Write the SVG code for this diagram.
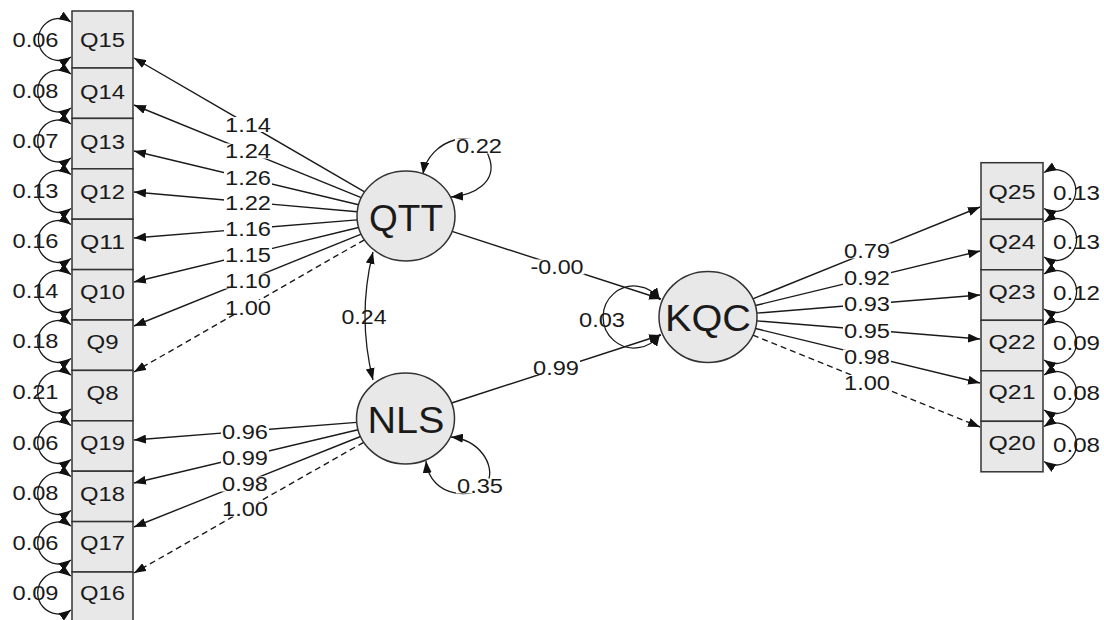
<svg xmlns="http://www.w3.org/2000/svg" width="1104" height="620" viewBox="0 0 1104 620">
<style>
.bg{fill:#ffffff}
.box{fill:#e8e8e8;stroke:#333;stroke-width:1.5}
.lat{fill:#e8e8e8;stroke:#333;stroke-width:1.5}
.e{fill:none;stroke:#1a1a1a;stroke-width:1.4;marker-end:url(#ah)}
.d{stroke-dasharray:6 4}
.v{fill:none;stroke:#1a1a1a;stroke-width:1.3;marker-start:url(#ah);marker-end:url(#ah)}
.lb{fill:#ffffff}
text{font-family:"Liberation Sans",Arial,sans-serif;fill:#1a1a1a;dominant-baseline:central;text-anchor:middle}
.s{font-size:20px}
.big{font-size:37px}
</style>
<defs>
<marker id="ah" viewBox="0 0 12 9" refX="12" refY="4.5" markerWidth="12" markerHeight="9" markerUnits="userSpaceOnUse" orient="auto-start-reverse"><path d="M0,0 L12,4.5 L0,9 z" fill="#111"/></marker>
</defs>
<rect class="bg" x="0" y="0" width="1104" height="620"/>
<g id="connectors">
<!-- QTT loadings -->
<path class="e" d="M364.6,191.9 L134,58"/>
<path class="e" d="M361.2,197.7 L134,105"/>
<path class="e" d="M358.6,204.7 L134,151"/>
<path class="e" d="M357.2,211.7 L134,192"/>
<path class="e" d="M357.2,219.9 L134,238"/>
<path class="e" d="M358.6,227.5 L134,282"/>
<path class="e" d="M361.2,234.1 L134,326"/>
<path class="e d" d="M364.4,239.8 L134,372"/>
<!-- NLS loadings -->
<path class="e" d="M356.7,422.4 L134,440"/>
<path class="e" d="M358,429.8 L134,483"/>
<path class="e" d="M360.5,436.5 L134,527"/>
<path class="e d" d="M363.7,442.3 L134,573"/>
<!-- KQC loadings -->
<path class="e" d="M752.9,298.8 L980,207"/>
<path class="e" d="M755.4,305.5 L980,251"/>
<path class="e" d="M756.8,313.1 L980,295"/>
<path class="e" d="M756.8,320.9 L980,339"/>
<path class="e" d="M755.4,328.5 L980,383"/>
<path class="e d" d="M752.9,335.2 L980,427"/>
<!-- structural -->
<path class="e" d="M452,231.4 L661,299"/>
<path class="e" d="M451.6,403 L661,335"/>
<!-- covariance & latent variances -->
<path class="v" d="M373,252 Q357,316 373,380"/>
<path class="v" d="M423,174 C428,140 480,122 490,160 C496,182 475,195 451,197"/>
<path class="v" d="M451,437 C480,440 495,465 488,482 C478,500 430,500 426,461"/>
<path class="v" d="M660,300 A31,31 0 1 0 660,334"/>
<!-- error variances left -->
<path class="v" d="M71,22 A21,21 0 1 0 71,57"/>
<path class="v" d="M71,74 A21,21 0 1 0 71,108"/>
<path class="v" d="M71,124 A21,21 0 1 0 71,158"/>
<path class="v" d="M71,174.5 A21,21 0 1 0 71,208.5"/>
<path class="v" d="M71,224.5 A21,21 0 1 0 71,258.5"/>
<path class="v" d="M71,274.5 A21,21 0 1 0 71,308.5"/>
<path class="v" d="M71,324.5 A21,21 0 1 0 71,358.5"/>
<path class="v" d="M71,375 A21,21 0 1 0 71,409"/>
<path class="v" d="M71,425.5 A21,21 0 1 0 71,459.5"/>
<path class="v" d="M71,476.5 A21,21 0 1 0 71,510.5"/>
<path class="v" d="M71,526 A21,21 0 1 0 71,560"/>
<path class="v" d="M71,576 A21,21 0 1 0 71,610"/>
<!-- error variances right -->
<path class="v" d="M1044,172.5 A21,21 0 1 1 1044,208.5"/>
<path class="v" d="M1044,222 A21,21 0 1 1 1044,257"/>
<path class="v" d="M1044,274 A21,21 0 1 1 1044,309"/>
<path class="v" d="M1044,325 A21,21 0 1 1 1044,360"/>
<path class="v" d="M1044,375 A21,21 0 1 1 1044,410"/>
<path class="v" d="M1044,426.5 A21,21 0 1 1 1044,461.5"/>
<!-- label backgrounds -->
<rect class="lb" x="224" y="117" width="48" height="15"/>
<rect class="lb" x="224" y="143.5" width="48" height="15"/>
<rect class="lb" x="224" y="170" width="48" height="15"/>
<rect class="lb" x="224" y="195" width="48" height="15"/>
<rect class="lb" x="224" y="221" width="48" height="15"/>
<rect class="lb" x="224" y="247" width="48" height="15"/>
<rect class="lb" x="224" y="273.5" width="48" height="15"/>
<rect class="lb" x="224" y="300" width="48" height="15"/>
<rect class="lb" x="221" y="424.5" width="48" height="15"/>
<rect class="lb" x="221" y="450" width="48" height="15"/>
<rect class="lb" x="221" y="476.5" width="48" height="15"/>
<rect class="lb" x="221" y="501.5" width="48" height="15"/>
<rect class="lb" x="843" y="243.5" width="48" height="15"/>
<rect class="lb" x="843" y="270" width="48" height="15"/>
<rect class="lb" x="843" y="296" width="48" height="15"/>
<rect class="lb" x="843" y="323.5" width="48" height="15"/>
<rect class="lb" x="843" y="349.5" width="48" height="15"/>
<rect class="lb" x="843" y="375" width="48" height="15"/>
<rect class="lb" x="529.5" y="259.5" width="55" height="15"/>
<rect class="lb" x="532" y="360" width="48" height="15"/>
<rect class="lb" x="455" y="138.5" width="48" height="15"/>
<rect class="lb" x="456" y="478.5" width="48" height="15"/>
<!-- path labels -->
<text class="s" x="248" y="124.5" textLength="46" lengthAdjust="spacingAndGlyphs">1.14</text>
<text class="s" x="248" y="151" textLength="46" lengthAdjust="spacingAndGlyphs">1.24</text>
<text class="s" x="248" y="177.5" textLength="46" lengthAdjust="spacingAndGlyphs">1.26</text>
<text class="s" x="248" y="202.5" textLength="46" lengthAdjust="spacingAndGlyphs">1.22</text>
<text class="s" x="248" y="228.5" textLength="46" lengthAdjust="spacingAndGlyphs">1.16</text>
<text class="s" x="248" y="254.5" textLength="46" lengthAdjust="spacingAndGlyphs">1.15</text>
<text class="s" x="248" y="281" textLength="46" lengthAdjust="spacingAndGlyphs">1.10</text>
<text class="s" x="248" y="307.5" textLength="46" lengthAdjust="spacingAndGlyphs">1.00</text>
<text class="s" x="245" y="432" textLength="46" lengthAdjust="spacingAndGlyphs">0.96</text>
<text class="s" x="245" y="457.5" textLength="46" lengthAdjust="spacingAndGlyphs">0.99</text>
<text class="s" x="245" y="484" textLength="46" lengthAdjust="spacingAndGlyphs">0.98</text>
<text class="s" x="245" y="509" textLength="46" lengthAdjust="spacingAndGlyphs">1.00</text>
<text class="s" x="867" y="251" textLength="46" lengthAdjust="spacingAndGlyphs">0.79</text>
<text class="s" x="867" y="277.5" textLength="46" lengthAdjust="spacingAndGlyphs">0.92</text>
<text class="s" x="867" y="303.5" textLength="46" lengthAdjust="spacingAndGlyphs">0.93</text>
<text class="s" x="867" y="331" textLength="46" lengthAdjust="spacingAndGlyphs">0.95</text>
<text class="s" x="867" y="357" textLength="46" lengthAdjust="spacingAndGlyphs">0.98</text>
<text class="s" x="867" y="382.5" textLength="46" lengthAdjust="spacingAndGlyphs">1.00</text>
<text class="s" x="557" y="267" textLength="53" lengthAdjust="spacingAndGlyphs">-0.00</text>
<text class="s" x="556" y="367.5" textLength="46" lengthAdjust="spacingAndGlyphs">0.99</text>
<text class="s" x="364" y="317" textLength="45" lengthAdjust="spacingAndGlyphs">0.24</text>
<text class="s" x="479" y="146" textLength="46" lengthAdjust="spacingAndGlyphs">0.22</text>
<text class="s" x="480" y="486" textLength="46" lengthAdjust="spacingAndGlyphs">0.35</text>
<text class="s" x="602" y="320" textLength="46" lengthAdjust="spacingAndGlyphs">0.03</text>
<!-- error variance labels -->
<text class="s" x="35.5" y="39.5" textLength="46" lengthAdjust="spacingAndGlyphs">0.06</text>
<text class="s" x="35.5" y="90.5" textLength="46" lengthAdjust="spacingAndGlyphs">0.08</text>
<text class="s" x="35.5" y="140.5" textLength="46" lengthAdjust="spacingAndGlyphs">0.07</text>
<text class="s" x="35.5" y="190.5" textLength="46" lengthAdjust="spacingAndGlyphs">0.13</text>
<text class="s" x="35.5" y="240.5" textLength="46" lengthAdjust="spacingAndGlyphs">0.16</text>
<text class="s" x="35.5" y="290.5" textLength="46" lengthAdjust="spacingAndGlyphs">0.14</text>
<text class="s" x="35.5" y="340.5" textLength="46" lengthAdjust="spacingAndGlyphs">0.18</text>
<text class="s" x="35.5" y="391.5" textLength="46" lengthAdjust="spacingAndGlyphs">0.21</text>
<text class="s" x="35.5" y="442.5" textLength="46" lengthAdjust="spacingAndGlyphs">0.06</text>
<text class="s" x="35.5" y="493" textLength="46" lengthAdjust="spacingAndGlyphs">0.08</text>
<text class="s" x="35.5" y="543" textLength="46" lengthAdjust="spacingAndGlyphs">0.06</text>
<text class="s" x="35.5" y="592.5" textLength="46" lengthAdjust="spacingAndGlyphs">0.09</text>
<text class="s" x="1076.5" y="192.5" textLength="47" lengthAdjust="spacingAndGlyphs">0.13</text>
<text class="s" x="1076.5" y="241.7" textLength="47" lengthAdjust="spacingAndGlyphs">0.13</text>
<text class="s" x="1076.5" y="293.3" textLength="47" lengthAdjust="spacingAndGlyphs">0.12</text>
<text class="s" x="1076.5" y="343.3" textLength="47" lengthAdjust="spacingAndGlyphs">0.09</text>
<text class="s" x="1076.5" y="393.3" textLength="47" lengthAdjust="spacingAndGlyphs">0.08</text>
<text class="s" x="1076.5" y="445" textLength="47" lengthAdjust="spacingAndGlyphs">0.08</text>
</g>
<g id="QTT"><ellipse class="lat" cx="406" cy="216" rx="49" ry="45"/><text class="big" x="406" y="218" textLength="74" lengthAdjust="spacingAndGlyphs">QTT</text></g>
<g id="NLS"><ellipse class="lat" cx="405.5" cy="418.5" rx="49" ry="45.5"/><text class="big" x="406" y="420" textLength="77" lengthAdjust="spacingAndGlyphs">NLS</text></g>
<g id="KQC"><ellipse class="lat" cx="708" cy="317" rx="49" ry="45.5"/><text class="big" x="708" y="318" textLength="86" lengthAdjust="spacingAndGlyphs">KQC</text></g>
<g id="Q15"><rect class="box" x="72" y="11" width="61" height="57"/><text class="s" x="102.5" y="40" textLength="45" lengthAdjust="spacingAndGlyphs">Q15</text></g>
<g id="Q14"><rect class="box" x="72" y="68" width="61" height="50.4"/><text class="s" x="102.5" y="91.7" textLength="45" lengthAdjust="spacingAndGlyphs">Q14</text></g>
<g id="Q13"><rect class="box" x="72" y="118.4" width="61" height="50.4"/><text class="s" x="102.5" y="141.7" textLength="45" lengthAdjust="spacingAndGlyphs">Q13</text></g>
<g id="Q12"><rect class="box" x="72" y="168.8" width="61" height="50.4"/><text class="s" x="102.5" y="191.7" textLength="45" lengthAdjust="spacingAndGlyphs">Q12</text></g>
<g id="Q11"><rect class="box" x="72" y="219.2" width="61" height="50.4"/><text class="s" x="102.5" y="241.7" textLength="45" lengthAdjust="spacingAndGlyphs">Q11</text></g>
<g id="Q10"><rect class="box" x="72" y="269.6" width="61" height="50.4"/><text class="s" x="102.5" y="291.7" textLength="45" lengthAdjust="spacingAndGlyphs">Q10</text></g>
<g id="Q9"><rect class="box" x="72" y="320" width="61" height="50.4"/><text class="s" x="102.5" y="341.7" textLength="32" lengthAdjust="spacingAndGlyphs">Q9</text></g>
<g id="Q8"><rect class="box" x="72" y="370.4" width="61" height="50.4"/><text class="s" x="102.5" y="392.7" textLength="32" lengthAdjust="spacingAndGlyphs">Q8</text></g>
<g id="Q19"><rect class="box" x="72" y="420.8" width="61" height="50.4"/><text class="s" x="102.5" y="442.7" textLength="45" lengthAdjust="spacingAndGlyphs">Q19</text></g>
<g id="Q18"><rect class="box" x="72" y="471.2" width="61" height="50.4"/><text class="s" x="102.5" y="494" textLength="45" lengthAdjust="spacingAndGlyphs">Q18</text></g>
<g id="Q17"><rect class="box" x="72" y="521.6" width="61" height="50.4"/><text class="s" x="102.5" y="543.3" textLength="45" lengthAdjust="spacingAndGlyphs">Q17</text></g>
<g id="Q16"><rect class="box" x="72" y="572" width="61" height="50.4"/><text class="s" x="102.5" y="593.3" textLength="45" lengthAdjust="spacingAndGlyphs">Q16</text></g>
<g id="Q25"><rect class="box" x="981" y="162.7" width="62" height="56.6"/><text class="s" x="1012" y="191.7" textLength="47" lengthAdjust="spacingAndGlyphs">Q25</text></g>
<g id="Q24"><rect class="box" x="981" y="219.3" width="62" height="50.5"/><text class="s" x="1012" y="241.7" textLength="47" lengthAdjust="spacingAndGlyphs">Q24</text></g>
<g id="Q23"><rect class="box" x="981" y="269.8" width="62" height="50.5"/><text class="s" x="1012" y="291.7" textLength="47" lengthAdjust="spacingAndGlyphs">Q23</text></g>
<g id="Q22"><rect class="box" x="981" y="320.3" width="62" height="50.5"/><text class="s" x="1012" y="341.7" textLength="47" lengthAdjust="spacingAndGlyphs">Q22</text></g>
<g id="Q21"><rect class="box" x="981" y="370.8" width="62" height="50.5"/><text class="s" x="1012" y="391.7" textLength="47" lengthAdjust="spacingAndGlyphs">Q21</text></g>
<g id="Q20"><rect class="box" x="981" y="421.3" width="62" height="50.5"/><text class="s" x="1012" y="443.3" textLength="47" lengthAdjust="spacingAndGlyphs">Q20</text></g>
</svg>
